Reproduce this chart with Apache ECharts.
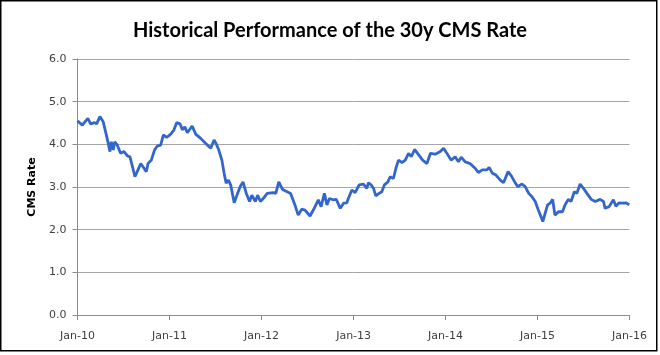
<!DOCTYPE html>
<html>
<head>
<meta charset="utf-8">
<script src="https://cdn.jsdelivr.net/npm/echarts@6/dist/echarts.min.js"></script>
<style>
html,body{margin:0;padding:0;background:#fff;}
#chart{width:660px;height:355px;}
</style>
</head>
<body>
<div id="chart"></div>
<script>
var titleText = 'Historical Performance of the 30y CMS Rate';
var yAxisName = 'CMS Rate';
var dates = [
'2010-01-01','2010-01-20','2010-02-11','2010-02-22','2010-03-10','2010-03-18','2010-03-31','2010-04-13','2010-04-20','2010-04-27',
'2010-05-03','2010-05-10','2010-05-15','2010-05-23','2010-05-29','2010-06-08','2010-06-21','2010-07-05','2010-07-18','2010-07-28',
'2010-08-07','2010-08-17','2010-08-26','2010-09-09','2010-09-22','2010-10-01','2010-10-08','2010-10-21','2010-11-03','2010-11-14',
'2010-11-27','2010-12-08','2010-12-21',
'2011-01-06','2011-01-19','2011-01-30','2011-02-12','2011-02-21','2011-03-03','2011-03-13','2011-04-01','2011-04-15','2011-05-05',
'2011-05-25','2011-06-14','2011-06-27','2011-07-05','2011-07-15','2011-07-28','2011-08-06','2011-08-14','2011-08-23','2011-09-01',
'2011-09-15','2011-09-26','2011-10-09','2011-10-20','2011-11-02','2011-11-15','2011-11-24','2011-12-08','2011-12-17','2011-12-28',
'2012-01-08','2012-01-24','2012-02-17','2012-02-27','2012-03-10','2012-03-25','2012-04-12','2012-04-26','2012-05-13','2012-05-26',
'2012-06-09','2012-06-22','2012-07-12','2012-07-25','2012-08-14','2012-08-25','2012-09-07','2012-09-17','2012-09-27','2012-10-11',
'2012-10-24','2012-11-09','2012-11-22','2012-12-05','2012-12-11','2012-12-25',
'2013-01-07','2013-01-23','2013-02-09','2013-02-22','2013-03-01','2013-03-11','2013-03-21','2013-03-30','2013-04-12','2013-04-23',
'2013-05-03','2013-05-17','2013-05-26','2013-06-08','2013-06-18','2013-06-28','2013-07-12','2013-07-25','2013-08-07','2013-08-18',
'2013-08-31','2013-09-14','2013-10-02','2013-10-19','2013-11-02','2013-11-21','2013-12-11','2013-12-24',
'2014-01-06','2014-01-23','2014-02-08','2014-02-21','2014-03-04','2014-03-20','2014-04-08','2014-04-28','2014-05-11','2014-05-27',
'2014-06-14','2014-06-23','2014-07-06','2014-07-20','2014-08-06','2014-08-19','2014-09-06','2014-09-19','2014-10-05','2014-10-15',
'2014-10-31','2014-11-13','2014-11-27','2014-12-10','2014-12-23',
'2015-01-04','2015-01-15','2015-01-22','2015-01-31','2015-02-10','2015-02-20','2015-03-02','2015-03-11','2015-03-25','2015-04-10',
'2015-04-20','2015-05-03','2015-05-14','2015-05-27','2015-06-06','2015-06-19','2015-07-02','2015-07-16','2015-08-02','2015-08-18',
'2015-09-06','2015-09-20','2015-09-26','2015-10-12','2015-10-29','2015-11-08','2015-11-21','2015-12-04','2015-12-18','2015-12-31'
];
var rates = [
4.55,4.45,4.61,4.48,4.51,4.48,4.65,4.53,4.49,4.18,
4.02,3.83,4.06,3.87,4.06,3.98,3.79,3.83,3.73,3.71,
3.48,3.24,3.36,3.55,3.44,3.36,3.55,3.63,3.87,3.96,
3.98,4.22,4.16,
4.24,4.34,4.51,4.48,4.34,4.41,4.27,4.43,4.24,4.14,
4.02,3.91,4.10,4.02,3.88,3.63,3.32,3.09,3.16,3.05,
2.63,2.81,3.01,3.12,2.85,2.66,2.81,2.66,2.81,2.66,
2.73,2.85,2.87,2.85,3.12,2.94,2.89,2.85,2.58,2.34,
2.48,2.46,2.32,2.46,2.70,2.54,2.85,2.58,2.73,2.70,
2.71,2.50,2.62,2.63,2.73,2.93,
2.87,3.05,3.07,2.97,3.10,3.05,2.97,2.79,2.85,2.89,
3.05,3.12,3.24,3.20,3.44,3.63,3.57,3.63,3.79,3.71,
3.88,3.77,3.63,3.55,3.79,3.77,3.83,3.91,
3.79,3.63,3.71,3.59,3.70,3.59,3.55,3.44,3.34,3.40,
3.40,3.46,3.32,3.28,3.16,3.10,3.36,3.26,3.09,3.01,
3.07,3.01,2.85,2.77,2.66,
2.46,2.30,2.19,2.38,2.58,2.62,2.71,2.34,2.42,2.42,
2.58,2.71,2.66,2.89,2.85,3.07,2.97,2.85,2.71,2.66,
2.71,2.66,2.50,2.54,2.70,2.55,2.63,2.62,2.63,2.58
];
var xMin = '2010-01-01';
var xMax = '2016-01-01';
var yTicks = [0, 1, 2, 3, 4, 5, 6];

var seriesData = dates.map(function (d, i) { return [d, rates[i]]; });
var chart = echarts.init(document.getElementById('chart'), null, {renderer: 'canvas'});
var monthNames = ['Jan','Feb','Mar','Apr','May','Jun','Jul','Aug','Sep','Oct','Nov','Dec'];
chart.setOption({
  animation: false,
  backgroundColor: '#ffffff',
  title: {
    text: titleText,
    left: 'center',
    top: 16,
    textStyle: {fontFamily: 'Lato', fontWeight: 'bold', fontSize: 20, color: '#000'}
  },
  grid: {left: 77.5, right: 30.5, top: 59, bottom: 40, containLabel: false},
  xAxis: {
    type: 'time',
    min: xMin,
    max: xMax,
    splitNumber: 6,
    minInterval: 365 * 86400000,
    maxInterval: 366 * 86400000,
    axisLine: {show: true, lineStyle: {color: '#8c8c8c', width: 1}},
    axisTick: {show: true, length: 5, lineStyle: {color: '#8c8c8c'}},
    splitLine: {show: false},
    axisLabel: {
      margin: 16,
      fontFamily: 'DejaVu Sans',
      fontSize: 11,
      color: '#404040',
      showMinLabel: true,
      showMaxLabel: true,
      formatter: function (v) {
        var d = new Date(v);
        var y = d.getFullYear() % 100;
        return monthNames[d.getMonth()] + '-' + (y < 10 ? '0' + y : y);
      }
    }
  },
  yAxis: {
    type: 'value',
    min: yTicks[0],
    max: yTicks[yTicks.length - 1],
    interval: 1,
    name: yAxisName,
    nameLocation: 'middle',
    nameGap: 39,
    nameTextStyle: {fontFamily: 'DejaVu Sans', fontWeight: 'bold', fontSize: 11, color: '#000'},
    axisLine: {show: true, lineStyle: {color: '#8c8c8c', width: 1}},
    axisTick: {show: true, length: 5, lineStyle: {color: '#8c8c8c'}},
    splitLine: {show: true, lineStyle: {color: '#a6a6a6', width: 1}},
    axisLabel: {
      margin: 11,
      fontFamily: 'DejaVu Sans',
      fontSize: 11,
      color: '#404040',
      formatter: function (v) { return v.toFixed(1); }
    }
  },
  graphic: [{
    type: 'rect',
    shape: {x: 0.75, y: 0.75, width: 656, height: 350},
    style: {fill: null, stroke: '#000', lineWidth: 1.5},
    silent: true
  }],
  series: [{
    type: 'line',
    data: seriesData,
    showSymbol: false,
    smooth: false,
    lineStyle: {color: '#3366cc', width: 2.8},
    itemStyle: {color: '#3366cc'}
  }]
});
</script>
</body>
</html>
